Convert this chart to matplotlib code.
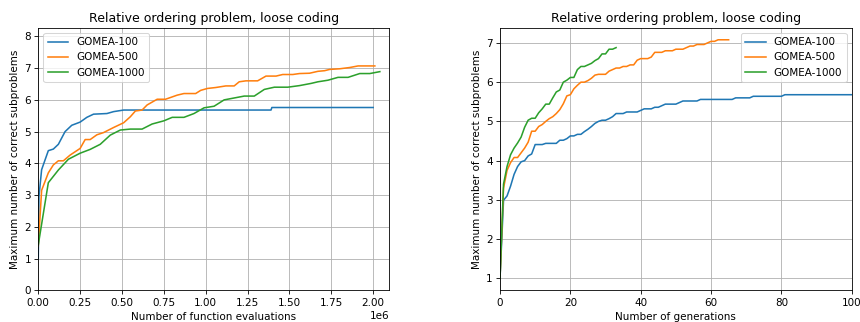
import numpy as np
import matplotlib
matplotlib.use("Agg")
import matplotlib.pyplot as plt

# -------------------------------------------------
# data: left panel (function evaluations, in 1e6)
# -------------------------------------------------
evals_100 = [0.0, 0.004, 0.02, 0.04, 0.06, 0.09, 0.12, 0.14, 0.16, 0.20, 0.25,
             0.29, 0.33, 0.41, 0.45, 0.51, 1.39, 1.395, 2.00]
best_100 = [1.0, 2.95, 3.8, 4.1, 4.4, 4.45, 4.6, 4.8, 5.0, 5.2, 5.3,
            5.45, 5.55, 5.57, 5.63, 5.68, 5.68, 5.76, 5.76]

evals_500 = [0.0, 0.02, 0.06, 0.09, 0.12, 0.15, 0.19, 0.25, 0.28, 0.31, 0.35,
             0.39, 0.45, 0.51, 0.55, 0.58, 0.62, 0.65, 0.71, 0.76, 0.83,
             0.87, 0.94, 0.97, 1.01, 1.06, 1.12, 1.17, 1.20, 1.24, 1.31,
             1.36, 1.42, 1.46, 1.52, 1.56, 1.62, 1.67, 1.71, 1.74, 1.80,
             1.86, 1.91, 2.01]
best_500 = [1.4, 3.15, 3.7, 3.95, 4.08, 4.08, 4.26, 4.47, 4.75, 4.75, 4.9,
            4.97, 5.13, 5.28, 5.47, 5.65, 5.68, 5.84, 6.02, 6.02, 6.15,
            6.2, 6.2, 6.3, 6.36, 6.39, 6.44, 6.44, 6.57, 6.6, 6.6,
            6.75, 6.75, 6.8, 6.8, 6.83, 6.84, 6.9, 6.92, 6.96, 6.98,
            7.02, 7.07, 7.07]

evals_1000 = [0.0, 0.06, 0.12, 0.18, 0.25, 0.31, 0.37, 0.43, 0.49, 0.55, 0.62,
              0.68, 0.75, 0.80, 0.87, 0.93, 0.99, 1.05, 1.11, 1.16, 1.23,
              1.29, 1.35, 1.41, 1.49, 1.56, 1.63, 1.67, 1.73, 1.79, 1.85,
              1.92, 1.98, 2.04]
best_1000 = [1.43, 3.39, 3.79, 4.13, 4.32, 4.44, 4.6, 4.89, 5.05, 5.08, 5.08,
             5.24, 5.34, 5.45, 5.45, 5.57, 5.75, 5.8, 6.0, 6.05, 6.12,
             6.12, 6.33, 6.4, 6.4, 6.45, 6.52, 6.57, 6.62, 6.71, 6.71,
             6.83, 6.83, 6.89]

# -------------------------------------------------
# data: right panel (one value per generation)
# -------------------------------------------------
gen_100 = [1.0, 2.99, 3.1, 3.35, 3.65, 3.85, 3.97, 4.0, 4.12, 4.17,
           4.41, 4.41, 4.41, 4.44, 4.44, 4.44, 4.44, 4.52, 4.52, 4.56,
           4.63, 4.63, 4.67, 4.67, 4.74, 4.8, 4.87, 4.95, 5.0, 5.03,
           5.03, 5.07, 5.12, 5.2, 5.2, 5.2, 5.24, 5.24, 5.24, 5.24,
           5.28, 5.32, 5.32, 5.32, 5.36, 5.36, 5.4, 5.44, 5.44, 5.44,
           5.44, 5.48, 5.52, 5.52, 5.52, 5.52, 5.52, 5.56, 5.56, 5.56,
           5.56, 5.56, 5.56, 5.56, 5.56, 5.56, 5.56, 5.6, 5.6, 5.6,
           5.6, 5.6, 5.64, 5.64, 5.64, 5.64, 5.64, 5.64, 5.64, 5.64,
           5.64, 5.68, 5.68, 5.68, 5.68, 5.68, 5.68, 5.68, 5.68, 5.68,
           5.68, 5.68, 5.68, 5.68, 5.68, 5.68, 5.68, 5.68, 5.68, 5.68,
           5.68]

gen_500 = [1.0, 3.3, 3.75, 3.95, 4.08, 4.08, 4.2, 4.32, 4.47, 4.75,
           4.75, 4.87, 4.92, 5.0, 5.07, 5.12, 5.2, 5.3, 5.45, 5.65,
           5.68, 5.83, 5.92, 6.0, 6.0, 6.04, 6.1, 6.18, 6.2, 6.2,
           6.2, 6.28, 6.32, 6.36, 6.36, 6.4, 6.4, 6.44, 6.44, 6.56,
           6.6, 6.6, 6.6, 6.64, 6.76, 6.76, 6.76, 6.8, 6.8, 6.8,
           6.84, 6.84, 6.84, 6.88, 6.92, 6.92, 6.96, 6.96, 6.96, 7.0,
           7.04, 7.04, 7.08, 7.08, 7.08, 7.08]

gen_1000 = [1.0, 3.4, 3.85, 4.15, 4.32, 4.45, 4.6, 4.85, 5.03, 5.08,
            5.08, 5.22, 5.32, 5.44, 5.44, 5.6, 5.75, 5.8, 6.0, 6.05,
            6.12, 6.12, 6.32, 6.4, 6.4, 6.44, 6.48, 6.55, 6.6, 6.72,
            6.72, 6.84, 6.84, 6.88]

labels = ["GOMEA-100", "GOMEA-500", "GOMEA-1000"]
title = "Relative ordering problem, loose coding"
ylabel = "Maximum number of correct subproblems"

# -------------------------------------------------
# figure
# -------------------------------------------------
dpi = 75
fig = plt.figure(figsize=(860 / dpi, 322 / dpi), dpi=dpi)

ax1 = fig.add_axes([0.0445, 0.0985, 0.408, 0.815])
ax2 = fig.add_axes([0.5814, 0.0985, 0.409, 0.815])

# left: function evaluations
for xs, ys, lab in zip(
    [evals_100, evals_500, evals_1000],
    [best_100, best_500, best_1000],
    labels
):
    ax1.plot(np.array(xs) * 1e6, ys, label=lab)

ax1.set_xlim(0, 2.0955e6)
ax1.set_ylim(0, 8.27)
ax1.set_title(title)
ax1.set_xlabel("Number of function evaluations")
ax1.set_ylabel(ylabel)
ax1.grid(True)
ax1.legend(loc="upper left")

# right: generations
for ys, lab in zip([gen_100, gen_500, gen_1000], labels):
    ax2.plot(np.arange(len(ys)), ys, label=lab)

ax2.set_xlim(0, 100)
ax2.set_title(title)
ax2.set_xlabel("Number of generations")
ax2.set_ylabel(ylabel)
ax2.grid(True)
ax2.legend(loc="upper right")

fig.savefig("out.png", dpi=dpi)
